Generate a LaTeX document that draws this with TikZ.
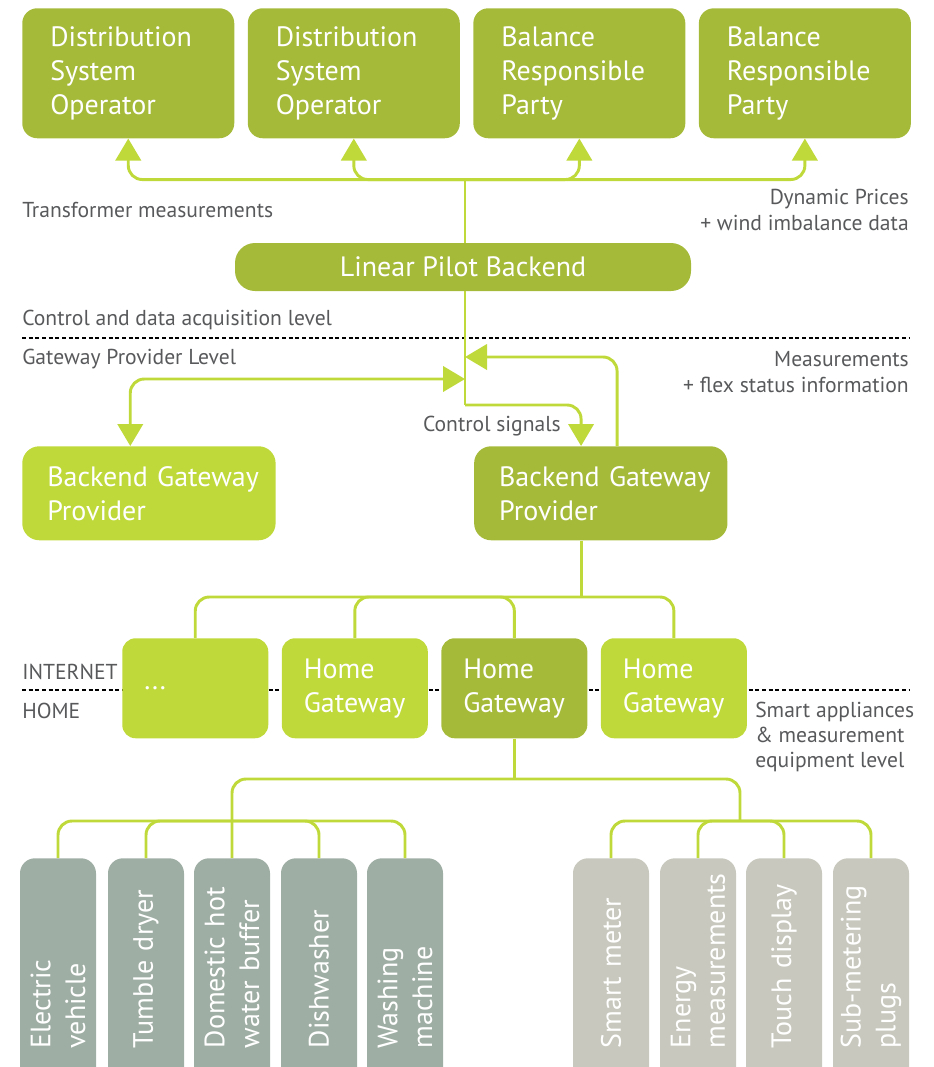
\documentclass[tikz,border=0pt]{standalone}
\usepackage{fontspec}
\setmainfont{PT Sans}
\usetikzlibrary{positioning,arrows.meta}
\hyphenpenalty=10000
\exhyphenpenalty=10000

\definecolor{pilotolive}{RGB}{166,186,58}
\definecolor{pilotlime}{RGB}{192,217,58}
\definecolor{pilotsage}{RGB}{159,174,164}
\definecolor{pilotstone}{RGB}{200,200,190}
\definecolor{pilotnote}{RGB}{88,89,91}

\newcommand\boxfont{\fontsize{21}{25.5}\selectfont}
\newcommand\notefont{\fontsize{16.2}{19}\selectfont}
\newcommand\applfont{\fontsize{21}{26}\selectfont}

\begin{document}
\begin{tikzpicture}[x=0.75pt,y=-0.75pt,
   >={Triangle[length=16.5pt,width=19pt]},
   box/.style={rounded corners=11.25pt, text=white, font=\boxfont, align=left, inner ysep=0pt},
   topbox/.style={box, fill=pilotolive, anchor=north west, minimum width=159pt, minimum height=97.5pt, inner xsep=21pt, text width=117pt},
   backbox/.style={box, fill=pilotolive, rounded corners=15pt, align=center, minimum width=342pt, minimum height=36pt},
   provbox/.style={box, rounded corners=12.75pt, anchor=north west, minimum width=190pt, minimum height=70.5pt, inner xsep=18.75pt, text width=152.5pt},
   homebox/.style={box, rounded corners=10pt, anchor=north west, minimum width=109.5pt, minimum height=75pt, inner xsep=16.5pt, text width=76.5pt},
   appbox/.style={box, font=\applfont, rotate=90, anchor=east, minimum width=180pt, minimum height=57pt, inner xsep=37.5pt, text width=105pt},
   note/.style={text=pilotnote, font=\notefont, inner sep=0pt},
   lnk/.style={draw=pilotlime, line width=2.2pt, rounded corners=10.5pt},
   levelline/.style={line width=2.2pt, dash pattern=on 3pt off 2pt}]
   \clip (0,0) rectangle (933,1067);

   % level separators
   \draw[levelline] (22,338) -- (909,338);
   \draw[levelline] (22,690) -- (909,690);

   % market parties
   \node[topbox] (dso1) at (22,8) {Distribution\\System\\Operator};
   \node[topbox] (dso2) [right=9.75pt of dso1] {Distribution\\System\\Operator};
   \node[topbox] (brp1) [right=9.75pt of dso2] {Balance\\Responsible\\Party};
   \node[topbox] (brp2) [right=9.75pt of brp1] {Balance\\Responsible\\Party};

   \node[backbox] (backend) at (463,267) {Linear Pilot Backend};

   \node[provbox, fill=pilotlime] (bgpL) at (22,446) {Backend~Gateway\\Provider};
   \node[provbox, fill=pilotolive] (bgpR) [right=148.5pt of bgpL] {Backend~Gateway\\Provider};

   % home gateways
   \node[homebox, fill=pilotlime] (hgw1) at (122,638) {...};
   \node[homebox, fill=pilotlime] (hgw2) [right=9.75pt of hgw1] {Home\\Gateway};
   \node[homebox, fill=pilotolive] (hgw3) [right=9.75pt of hgw2] {Home\\Gateway};
   \node[homebox, fill=pilotlime] (hgw4) [right=9.75pt of hgw3] {Home\\Gateway};

   % appliances (rotated, text runs upwards)
   \node[appbox, fill=pilotsage] (ev) at (58,858) {Electric\\vehicle};
   \node[appbox, fill=pilotsage] (dry) at (146,858) {Tumble~dryer};
   \node[appbox, fill=pilotsage] (dom) at (232,858) {Domestic~hot\\water~buffer};
   \node[appbox, fill=pilotsage] (dish) at (319,858) {Dishwasher};
   \node[appbox, fill=pilotsage] (wash) at (405,858) {Washing\\machine};

   \node[appbox, fill=pilotstone] (smart) at (611,858) {Smart~meter};
   \node[appbox, fill=pilotstone] (energy) at (698,858) {Energy\\measurements};
   \node[appbox, fill=pilotstone] (touch) at (784,858) {Touch~display};
   \node[appbox, fill=pilotstone] (sub) at (871,858) {Sub-metering\\plugs};

   % texts
   \node[note, anchor=west] (trafo) at (22,210) {Transformer measurements};
   \node[note, anchor=east, align=right] (prices) at (909,210) {Dynamic Prices\\+ wind imbalance data};
   \node[note, anchor=west] (ctrllvl) at (22,320) {Control and data acquisition level};
   \node[note, anchor=west] (gwlvl) at (22,359) {Gateway Provider Level};
   \node[note, anchor=east, align=right] (meas) at (909,372) {Measurements\\+ flex status information};
   \node[note, anchor=east] (ctrlsig) at (561,426) {Control signals};
   \node[note, anchor=west] (inet) at (22,672) {INTERNET};
   \node[note, anchor=west] (home) at (22,711) {HOME};
   \node[note, anchor=west, align=left] (smartlvl) at (755,737) {Smart appliances\\\& measurement\\equipment level};

   % connectors
   \coordinate (topbus) at (465,179);
   \coordinate (hub) at (465,405);
   \coordinate (inR) at (465,357);
   \coordinate (inL) at (465,379);
   \coordinate (appbus) at (740,821);

   \draw[lnk,<->] (dso1.south) -- ++(0,41) -| (brp1.south);
   \draw[lnk,<->] (dso2.south) -- ++(0,41) -| (brp2.south);
   \draw[lnk] (topbus) -- (topbus |- backend.north);
   \draw[lnk] (topbus |- backend.south) -- (hub);
   \draw[lnk,<->] (inL) -| ([xshift=-14pt]bgpL.north);
   \draw[lnk,->] ([xshift=12.2pt]bgpR.north) |- (inR);
   \draw[lnk,->] (hub) -| ([xshift=-14.8pt]bgpR.north);

   \draw[lnk] ([xshift=-14.8pt]bgpR.south) -- ++(0,57);
   \draw[lnk] (hgw1.north) -- ++(0,-41) -| (hgw3.north);
   \draw[lnk] (hgw2.north) -- ++(0,-41) -| (hgw4.north);

   \draw[lnk] (hgw3.south) -- ++(0,41);
   \draw[lnk] (dom.east) -- ++(0,-79) -| (appbus);
   \draw[lnk] (ev.east) -- ++(0,-37) -| (dish.east);
   \draw[lnk] (dry.east) -- ++(0,-37) -| (wash.east);
   \draw[lnk] (smart.east) -- ++(0,-37) -| (touch.east);
   \draw[lnk] (energy.east) -- ++(0,-37) -| (sub.east);
\end{tikzpicture}
\end{document}
